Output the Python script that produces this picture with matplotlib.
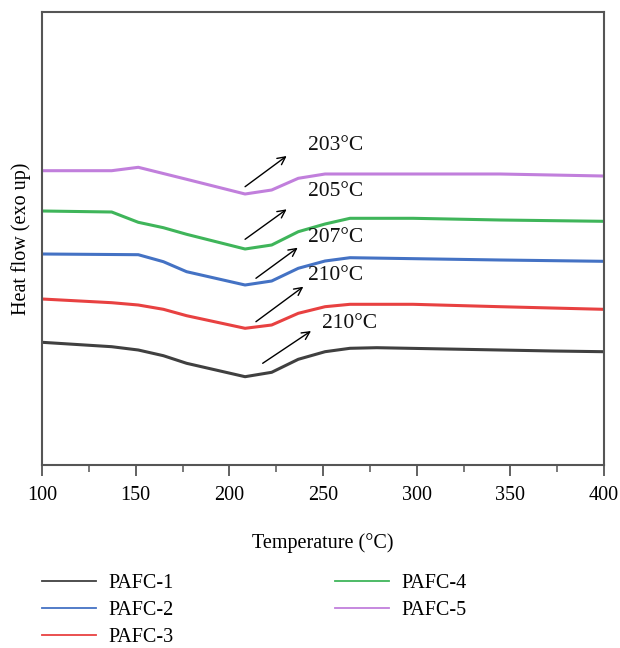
import matplotlib
matplotlib.use("Agg")
import matplotlib.pyplot as plt
from matplotlib.lines import Line2D
from matplotlib.ticker import MultipleLocator

plt.rcParams['font.family'] = ['Liberation Serif', 'DejaVu Serif']

# Data (temperature in °C, heat flow in arbitrary offset units)
t_pafc1 = [100, 137.2, 151.4, 164.8, 177.2, 208.4, 222.6, 236.8, 251.1, 264.4, 278.7, 344.5, 372.8, 399.5]
hf_pafc1 = [12.27, 11.83, 11.5, 10.93, 10.17, 8.83, 9.27, 10.57, 11.33, 11.67, 11.73, 11.5, 11.4, 11.33]

t_pafc2 = [100, 151.4, 164.8, 177.2, 208.4, 222.6, 236.8, 251.1, 264.4, 344.5, 399.5]
hf_pafc2 = [21.1, 21.03, 20.33, 19.33, 18.0, 18.4, 19.67, 20.4, 20.73, 20.5, 20.37]

t_pafc3 = [100, 137.2, 151.4, 164.8, 177.2, 208.4, 222.6, 236.8, 251.1, 264.4, 298, 344.5, 399.5]
hf_pafc3 = [16.6, 16.23, 16.0, 15.57, 14.93, 13.67, 14.0, 15.17, 15.83, 16.07, 16.07, 15.83, 15.57]

t_pafc4 = [100, 137.2, 151.4, 164.8, 177.2, 208.4, 222.6, 236.8, 251.1, 264.4, 298, 344.5, 399.5]
hf_pafc4 = [25.4, 25.3, 24.27, 23.73, 23.07, 21.6, 22.0, 23.33, 24.1, 24.67, 24.67, 24.5, 24.37]

t_pafc5 = [100, 137.2, 151.4, 177.2, 208.4, 222.6, 236.8, 251.1, 264.4, 344.5, 399.5]
hf_pafc5 = [29.43, 29.43, 29.77, 28.57, 27.1, 27.5, 28.67, 29.1, 29.1, 29.1, 28.9]

series_labels = ['PAFC-1', 'PAFC-2', 'PAFC-3', 'PAFC-4', 'PAFC-5']
series_colors = ['#404040', '#4472c4', '#e84141', '#3fb55a', '#c17fdc']

# Annotations: label, arrow tail (T, y), arrow head (T, y), text pos (T, y)
peak_labels = ['203°C', '205°C', '207°C', '210°C', '210°C']
arrow_tail = [(208.4, 27.83), (208.4, 22.57), (214.2, 18.67), (214.2, 14.33), (217.8, 10.17)]
arrow_head = [(230.6, 30.9), (230.6, 25.57), (236.5, 21.73), (239.5, 17.83), (243.6, 13.4)]
text_pos = [(242.0, 31.9), (242.0, 27.4), (242.0, 22.7), (242.0, 18.9), (249.5, 14.1)]

x_ticks = [100, 150, 200, 250, 300, 350, 400]

fig = plt.figure(figsize=(6.2, 6.48), dpi=100)
ax = fig.add_axes([42/620, 1-465/648, 562/620, 453/648])

all_t = [t_pafc1, t_pafc2, t_pafc3, t_pafc4, t_pafc5]
all_hf = [hf_pafc1, hf_pafc2, hf_pafc3, hf_pafc4, hf_pafc5]
for t, hf, c in zip(all_t, all_hf, series_colors):
    ax.plot(t, hf, color=c, lw=2.2, solid_joinstyle='round')

for lab, tail, head, tp in zip(peak_labels, arrow_tail, arrow_head, text_pos):
    ax.annotate('', xy=head, xytext=tail,
                arrowprops=dict(arrowstyle='->', color='black', lw=1.0,
                                mutation_scale=14, shrinkA=0, shrinkB=0))
    ax.text(tp[0], tp[1], lab, fontsize=15.5, ha='left', va='center', color='#111111')

ax.set_xlim(100, 400)
ax.set_ylim(0, 45.3)
ax.set_xticks(x_ticks)
ax.xaxis.set_minor_locator(MultipleLocator(25))
ax.set_yticks([])
ax.tick_params(axis='x', which='major', direction='out', length=8, width=1.3,
               color='#555555', labelsize=14.5, pad=7)
ax.tick_params(axis='x', which='minor', direction='out', length=5, width=1.1,
               color='#555555')
for s in ax.spines.values():
    s.set_color('#555555')
    s.set_linewidth(1.5)

ax.set_xlabel('Temperature (°C)', fontsize=14.5, labelpad=20)
ax.set_ylabel('Heat flow (exo up)', fontsize=14.5, labelpad=8)

handles = [Line2D([0], [0], color=c, lw=1.3) for c in series_colors]
common = dict(loc='upper left', frameon=False, fontsize=14.5,
              handlelength=2.7, handletextpad=0.6, labelspacing=0.4,
              borderpad=0, borderaxespad=0)
leg1 = fig.legend(handles[:3], series_labels[:3],
                  bbox_to_anchor=(42/620, 1-574/648), **common)
leg2 = fig.legend(handles[3:], series_labels[3:],
                  bbox_to_anchor=(335/620, 1-574/648), **common)

fig.savefig('out.png', dpi=100)
